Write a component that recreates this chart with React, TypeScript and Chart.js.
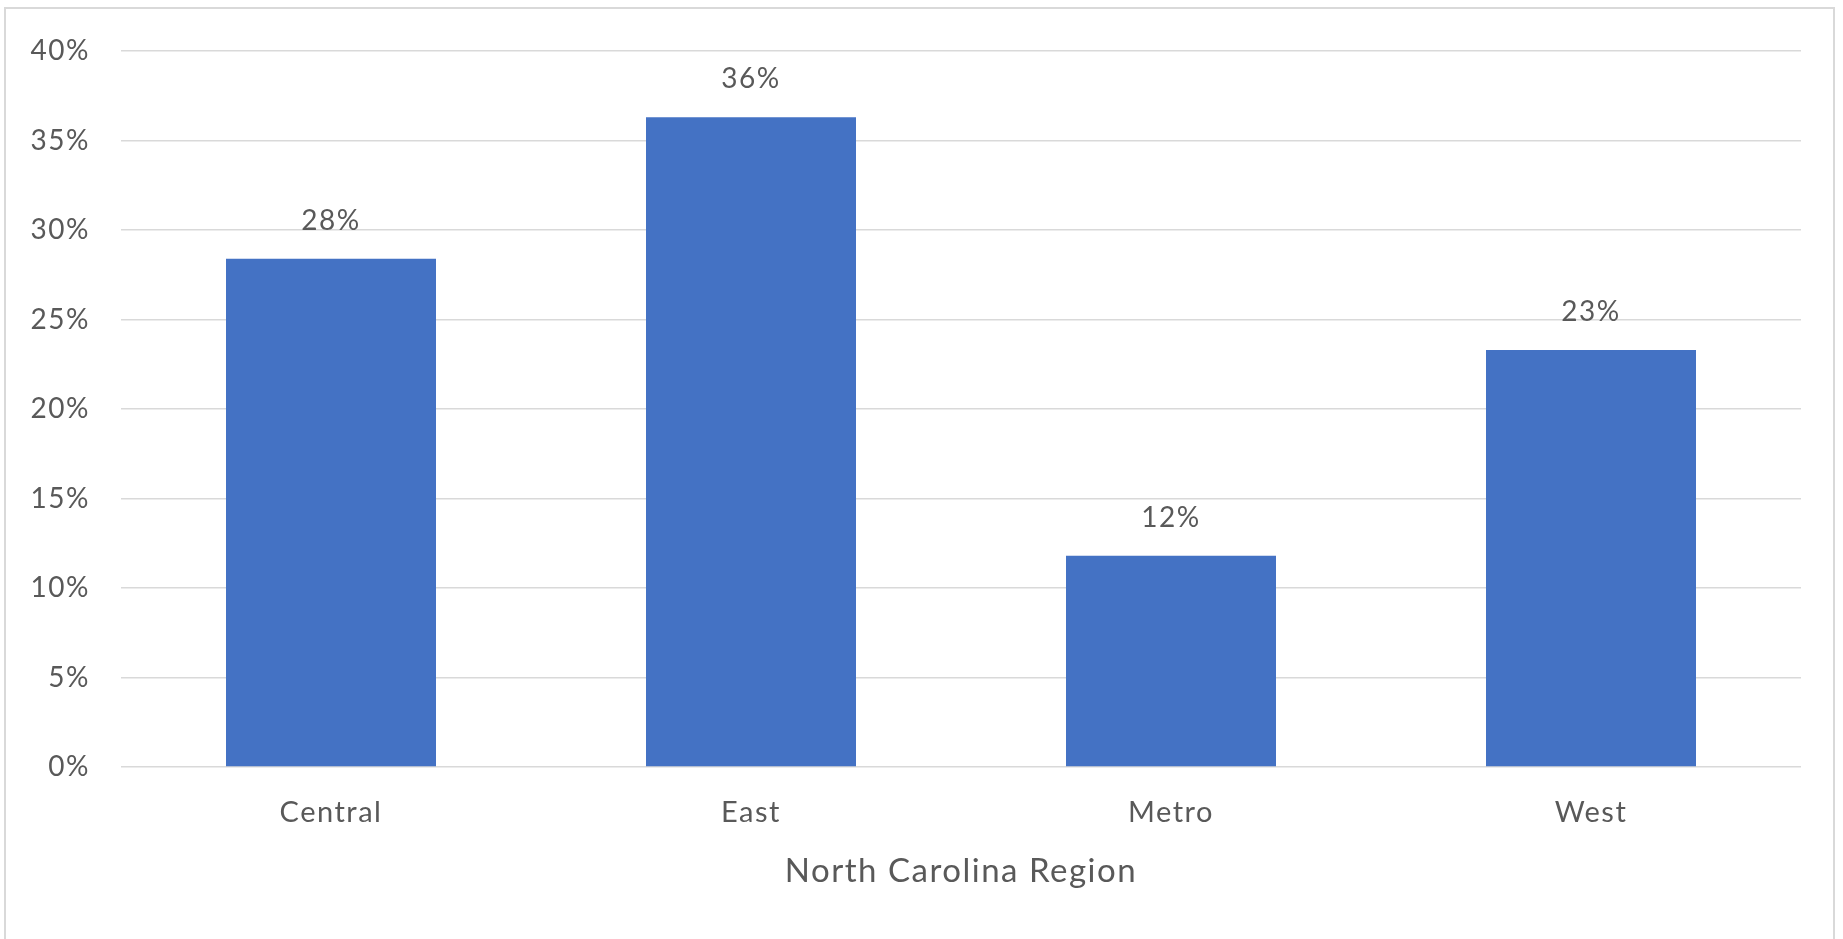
import React, { useEffect, useRef } from "react";
import { Chart, registerables } from "chart.js";

Chart.register(...registerables);

// Share of respondents by region (percent)
const regions = ["Central", "East", "Metro", "West"];
const shares = [28.4, 36.3, 11.8, 23.3];
const yMin = 0;
const yMax = 40;
const yStep = 5;
const axisTitle = "North Carolina Region";

const FONT = "Lato, 'Open Sans', sans-serif";
const TEXT = "#595959";
const GRID = "#d9d9d9";
const BAR = "#4472c4";
const SPACING = "1.5px";

const W = 1843;
const H = 939;

// Slightly open tracking for all chart text
const textTracking = {
  id: "textTracking",
  beforeDraw(chart: any) {
    chart.ctx.letterSpacing = SPACING;
  },
  afterDraw(chart: any) {
    chart.ctx.letterSpacing = "0px";
  },
};

// Percent labels above each bar
const valueLabels = {
  id: "valueLabels",
  afterDatasetsDraw(chart: any) {
    const ctx = chart.ctx;
    const meta = chart.getDatasetMeta(0);
    ctx.save();
    ctx.font = `28px ${FONT}`;
    ctx.fillStyle = TEXT;
    ctx.textAlign = "center";
    ctx.textBaseline = "alphabetic";
    meta.data.forEach((bar: any, i: number) => {
      ctx.fillText(`${Math.round(shares[i])}%`, bar.x, bar.y - 29);
    });
    ctx.restore();
  },
};

export default function App() {
  const ref = useRef<HTMLCanvasElement | null>(null);

  useEffect(() => {
    if (!ref.current) return;
    const chart = new Chart(ref.current, {
      type: "bar",
      data: {
        labels: regions,
        datasets: [
          {
            data: shares,
            backgroundColor: BAR,
            borderWidth: 0,
            barPercentage: 0.5,
            categoryPercentage: 1,
          },
        ],
      },
      options: {
        responsive: false,
        animation: false,
        devicePixelRatio: 1,
        layout: { padding: { left: 0, right: W - 1801, top: 51, bottom: 0 } },
        plugins: {
          legend: { display: false },
          tooltip: { enabled: false },
        },
        scales: {
          x: {
            grid: { display: false, drawTicks: false },
            border: { display: false },
            ticks: {
              color: TEXT,
              font: { family: FONT, size: 29 },
              padding: 28,
            },
            title: {
              display: true,
              text: axisTitle,
              color: TEXT,
              font: { family: FONT, size: 33 },
              padding: { top: 0, bottom: 48 },
            },
            afterFit: (scale: any) => {
              scale.height = H - 767;
            },
          },
          y: {
            min: yMin,
            max: yMax,
            grid: { color: GRID, lineWidth: 1.5, drawTicks: false },
            border: { display: false },
            ticks: {
              stepSize: yStep,
              color: TEXT,
              font: { family: FONT, size: 28 },
              padding: 31,
              callback: (v: any) => `${v}%`,
            },
            afterFit: (scale: any) => {
              scale.width = 121;
            },
          },
        },
      },
      plugins: [textTracking, valueLabels],
    });
    return () => chart.destroy();
  }, []);

  return (
    <div
      style={{
        position: "fixed",
        left: 0,
        top: 0,
        width: W,
        height: H,
        overflow: "hidden",
        background: "#ffffff",
      }}
    >
      <div
        style={{
          position: "absolute",
          left: 4,
          top: 7,
          width: 1831,
          height: 1000,
          border: "2px solid #d9d9d9",
          boxSizing: "border-box",
        }}
      />
      <canvas
        ref={ref}
        width={W}
        height={H}
        style={{ position: "absolute", left: 0, top: 0, width: W, height: H }}
      />
    </div>
  );
}
